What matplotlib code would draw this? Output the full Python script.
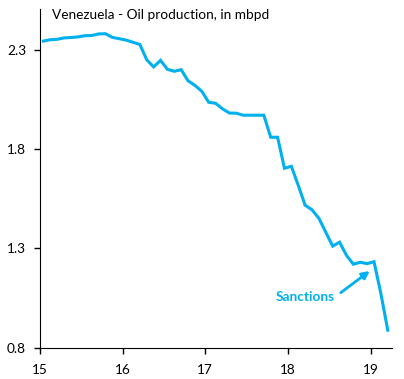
import matplotlib
matplotlib.use("Agg")
import matplotlib.pyplot as plt
import numpy as np

# monthly oil production, mbpd, Jan 2015 - Mar 2019
production = [2.343, 2.350, 2.352, 2.359, 2.361, 2.364, 2.370, 2.371, 2.379, 2.380,
              2.362, 2.355, 2.348, 2.337, 2.326, 2.249, 2.213, 2.246, 2.201, 2.191,
              2.199, 2.143, 2.120, 2.090, 2.035, 2.030, 2.002, 1.981, 1.980, 1.970,
              1.970, 1.970, 1.970, 1.859, 1.859, 1.703, 1.713, 1.617, 1.517, 1.494,
              1.451, 1.381, 1.311, 1.331, 1.265, 1.220, 1.230, 1.223, 1.233, 1.072,
              0.888]
start_year = 15
xticks = [15, 16, 17, 18, 19]
yticks = [0.8, 1.3, 1.8, 2.3]
title = "Venezuela - Oil production, in mbpd"

years = start_year + (np.arange(len(production)) + 0.5) / 12

plt.rcParams['font.family'] = ['Lato', 'DejaVu Sans']
blue = '#00B0F0'

fig = plt.figure(figsize=(4.04, 3.79), dpi=100)
ax = fig.add_axes([0.099, 0.0826, 0.871, 0.8934])
ax.plot(years, production, color=blue, lw=2.2, solid_joinstyle='miter')

ax.set_xlim(15, 19.258)
ax.set_ylim(0.8, 2.504)
ax.set_xticks(xticks)
ax.set_xticklabels([str(t) for t in xticks])
ax.set_yticks(yticks)
ax.set_yticklabels(['%.1f' % t for t in yticks])
ax.spines['top'].set_visible(False)
ax.spines['right'].set_visible(False)
ax.tick_params(axis='both', length=4, width=1, labelsize=9.8, colors='black')
ax.tick_params(axis='x', pad=8)
ax.tick_params(axis='y', pad=6)

ax.text(0.034, 0.982, title, transform=ax.transAxes, fontsize=9.8,
        ha='left', va='center')

# sanctions label and arrow
ax.text(18.21, 1.055, 'Sanctions', color=blue, fontsize=9.8, fontweight='bold',
        ha='center', va='center')
ax.annotate('', xy=(18.99, 1.186), xytext=(18.64, 1.077),
            arrowprops=dict(arrowstyle='-|>', color=blue, lw=2,
                            mutation_scale=11, shrinkA=0, shrinkB=0))

fig.savefig('out.png', dpi=100)
